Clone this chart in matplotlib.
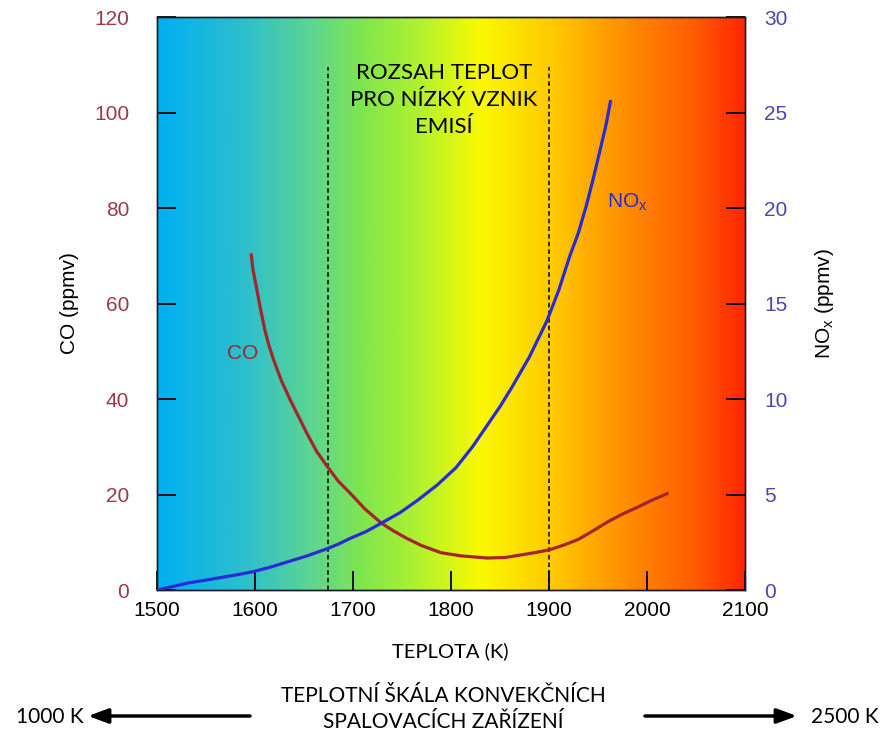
import numpy as np
import matplotlib
matplotlib.use("Agg")
import matplotlib.pyplot as plt
from matplotlib.colors import LinearSegmentedColormap
from matplotlib.patches import FancyArrowPatch

# Data
co_temp = [1596, 1598, 1602, 1605, 1610, 1614, 1619, 1627, 1636, 1644,
           1653, 1663, 1674, 1685, 1697, 1712, 1729, 1742, 1755, 1770,
           1790, 1810, 1837, 1855, 1870, 1885, 1900, 1915, 1930, 1945,
           1961, 1975, 1990, 2005, 2022]
co_ppmv = [70.5, 67.0, 62.8, 59.5, 54.5, 51.4, 48.2, 43.8, 39.8, 36.5,
           32.8, 29.0, 25.8, 22.8, 20.3, 17.0, 14.0, 12.3, 10.8, 9.3,
           7.8, 7.15, 6.7, 6.8, 7.3, 7.8, 8.4, 9.4, 10.6, 12.4,
           14.4, 15.9, 17.3, 18.8, 20.3]

nox_temp = [1500, 1516, 1532, 1548, 1565, 1582, 1598, 1616, 1635, 1654,
            1673, 1685, 1697, 1713, 1729, 1748, 1766, 1786, 1805, 1822,
            1838, 1850, 1862, 1880, 1898, 1910, 1921, 1930, 1938, 1945,
            1952, 1958, 1963]
nox_ppmv = [0.0, 0.18, 0.37, 0.5, 0.65, 0.8, 0.96, 1.2, 1.5, 1.8,
            2.15, 2.4, 2.7, 3.05, 3.5, 4.05, 4.7, 5.5, 6.4, 7.5,
            8.7, 9.6, 10.6, 12.2, 14.1, 15.7, 17.45, 18.7, 20.1, 21.5,
            23.0, 24.3, 25.65]

range_bounds = [1675, 1900]
x_ticks = [1500, 1600, 1700, 1800, 1900, 2000, 2100]
co_ticks = [0, 20, 40, 60, 80, 100, 120]
nox_ticks = [0, 5, 10, 15, 20, 25, 30]

# colours
co_col = "#a4262c"
nox_col = "#2b2bd6"
co_tick_col = "#9c3a48"
nox_tick_col = "#4a48b0"

grad = LinearSegmentedColormap.from_list("temp", [
    (0.00, (0.00, 0.69, 0.95)),
    (0.15, (0.18, 0.75, 0.80)),
    (0.27, (0.38, 0.84, 0.55)),
    (0.35, (0.50, 0.90, 0.30)),
    (0.45, (0.70, 0.95, 0.18)),
    (0.55, (0.98, 0.98, 0.00)),
    (0.68, (1.00, 0.78, 0.00)),
    (0.80, (1.00, 0.55, 0.00)),
    (0.92, (1.00, 0.35, 0.00)),
    (1.00, (1.00, 0.15, 0.00)),
])

plt.rcParams['font.family'] = ['Liberation Sans', 'DejaVu Sans']

fig = plt.figure(figsize=(8.94, 7.4), dpi=100)
ax = fig.add_axes([0.1756, 0.2027, 0.6577, 0.7743])
ax.imshow(np.linspace(0, 1, 512)[None, :], extent=[1500, 2100, 0, 120],
          aspect='auto', cmap=grad, zorder=0)

ax.plot(co_temp, co_ppmv, color=co_col, lw=2.3, zorder=3, solid_capstyle='butt')
for b in range_bounds:
    ax.plot([b, b], [0, 109.5], color='black', ls=(0, (3, 2)), lw=1.1, zorder=2)

ax.set_xlim(1500, 2100)
ax.set_ylim(0, 120)
ax.set_xticks(x_ticks)
ax.set_yticks(co_ticks)
ax.tick_params(axis='x', direction='in', length=14, width=1.3, pad=8,
               labelsize=15, top=False)
ax.tick_params(axis='y', direction='in', length=14, width=1.3, pad=20,
               labelsize=15, labelcolor=co_tick_col)
ax.set_ylabel("CO (ppmv)", fontsize=15, labelpad=11)

ax2 = ax.twinx()
ax2.plot(nox_temp, nox_ppmv, color=nox_col, lw=2.3, zorder=3, solid_capstyle='butt')
ax2.set_ylim(0, 30)
ax2.set_yticks(nox_ticks)
ax2.tick_params(axis='y', direction='in', length=14, width=1.3, pad=14,
                labelsize=15, labelcolor=nox_tick_col)
ax2.set_ylabel(r"NO$_\mathregular{x}$ (ppmv)", fontsize=15, rotation=90, labelpad=18)

for a in (ax, ax2):
    for s in a.spines.values():
        s.set_linewidth(1.0)
        s.set_color('#1a1a2a')

ax.text(1587, 49.5, "CO", color=co_col, fontsize=15, ha='center', va='center')
ax2.text(1980, 20.3, r"NO$_\mathregular{x}$", color=nox_col, fontsize=15,
         ha='center', va='center')

czech = ['Lato', 'DejaVu Sans']
ax.text(1793, 102.6, "ROZSAH TEPLOT\nPRO NÍZKÝ VZNIK\nEMISÍ", family=czech,
        fontsize=16, ha='center', va='center', linespacing=1.45)

fig.text(450 / 894, 1 - 651 / 740, "TEPLOTA (K)", family=czech, fontsize=14.5,
         ha='center', va='center')
fig.text(443 / 894, 1 - 709 / 740, "TEPLOTNÍ ŠKÁLA KONVEKČNÍCH\nSPALOVACÍCH ZAŘÍZENÍ",
         family=czech, fontsize=15, ha='center', va='center', linespacing=1.4)
fig.text(50 / 894, 1 - 717 / 740, "1000 K", family=czech, fontsize=15,
         ha='center', va='center')
fig.text(845 / 894, 1 - 717 / 740, "2500 K", family=czech, fontsize=15,
         ha='center', va='center')
arrow = dict(arrowstyle='-|>,head_length=0.6,head_width=0.22', color='black',
             lw=2.5, mutation_scale=20, shrinkA=0, shrinkB=0,
             transform=fig.transFigure)
fig.add_artist(FancyArrowPatch((250 / 894, 1 - 716 / 740), (88 / 894, 1 - 716 / 740), **arrow))
fig.add_artist(FancyArrowPatch((645 / 894, 1 - 716 / 740), (797 / 894, 1 - 716 / 740), **arrow))

fig.savefig("out.png", dpi=100)
